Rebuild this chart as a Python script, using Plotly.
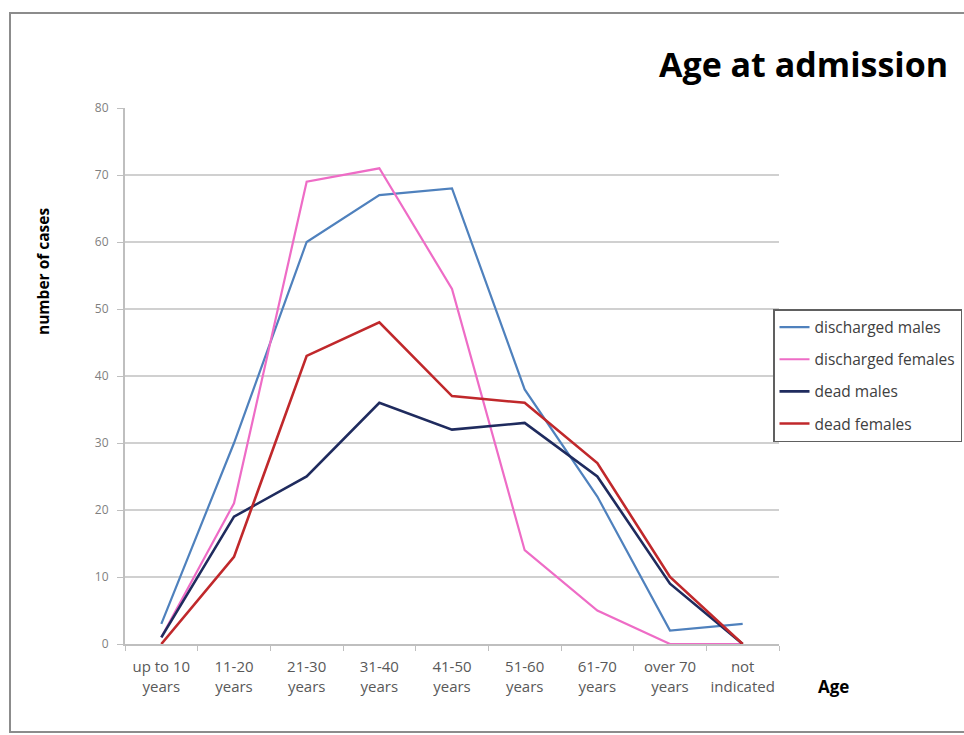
import plotly.graph_objects as go

categories = ["up to 10<br>years", "11-20<br>years", "21-30<br>years", "31-40<br>years",
              "41-50<br>years", "51-60<br>years", "61-70<br>years", "over 70<br>years",
              "not<br>indicated"]
discharged_males = [3, 30, 60, 67, 68, 38, 22, 2, 3]
discharged_females = [1, 21, 69, 71, 53, 14, 5, 0, 0]
dead_males = [1, 19, 25, 36, 32, 33, 25, 9, 0]
dead_females = [0, 13, 43, 48, 37, 36, 27, 10, 0]
y_ticks = [0, 10, 20, 30, 40, 50, 60, 70, 80]

series = [
    ("discharged males", discharged_males, "#4F81BD", 2.2),
    ("discharged females", discharged_females, "#EE6CC6", 2.2),
    ("dead males", dead_males, "#1F2B5E", 2.6),
    ("dead females", dead_females, "#C0282B", 2.6),
]

FONT = "'Open Sans', Lato, sans-serif"

fig = go.Figure()
for name, vals, color, w in series:
    fig.add_trace(go.Scatter(x=categories, y=vals, mode="lines", name=name,
                             legendgroup=name,
                             line=dict(color=color, width=w)))

L, R, T, B = 125, 185, 108, 91
W, H = 964, 735
pw, ph = W - L - R, H - T - B

def px(x):
    return (x - L) / pw

def py(y):
    return (H - B - y) / ph

fig.update_layout(
    width=W, height=H,
    margin=dict(l=L, r=R, t=T, b=B, autoexpand=False),
    paper_bgcolor="white", plot_bgcolor="white",
    font=dict(family=FONT, color="#595959"),
    showlegend=True,
    legend=dict(x=px(773), y=py(309), xanchor="left", yanchor="top",
                bordercolor="#606060", borderwidth=1.5, bgcolor="white",
                font=dict(size=15.5, color="#404040", family=FONT),
                tracegroupgap=9, itemwidth=30),
    xaxis=dict(type="category", range=[-0.5, 8.5], showgrid=False,
               showline=True, linecolor="#BFBFBF", linewidth=2,
               ticks="outside", tickson="boundaries", ticklen=5, tickcolor="#BFBFBF",
               ticklabelstandoff=8, tickangle=0, automargin=False,
               tickfont=dict(size=15, color="#595959"), fixedrange=True),
    yaxis=dict(range=[0, 80], tickvals=y_ticks, showgrid=True, gridcolor="#D0D0D0",
               gridwidth=2, showline=True, linecolor="#BFBFBF", linewidth=2,
               ticks="outside", ticklen=6, tickcolor="#BFBFBF", zeroline=False,
               ticklabelstandoff=6, automargin=False,
               tickfont=dict(size=12, color="#7F7F7F")),
    shapes=[dict(type="rect", xref="paper", yref="paper",
                 x0=px(10), x1=px(970), y0=py(732), y1=py(13),
                 line=dict(color="#8C8C8C", width=2), layer="below")],
    annotations=[
        dict(text="<b>Age at admission</b>", xref="paper", yref="paper",
             x=px(950), y=py(64), xanchor="right", yanchor="middle", showarrow=False,
             font=dict(size=34, color="#000000", family=FONT)),
        dict(text="<b>number of cases</b>", xref="paper", yref="paper",
             x=px(43), y=py(272), xanchor="center", yanchor="middle", showarrow=False,
             textangle=-90, font=dict(size=15.5, color="#000000", family=FONT)),
        dict(text="<b>Age</b>", xref="paper", yref="paper",
             x=px(834), y=py(686), xanchor="center", yanchor="middle", showarrow=False,
             font=dict(size=17, color="#000000", family=FONT)),
    ],
)

fig.write_html("out.html")
